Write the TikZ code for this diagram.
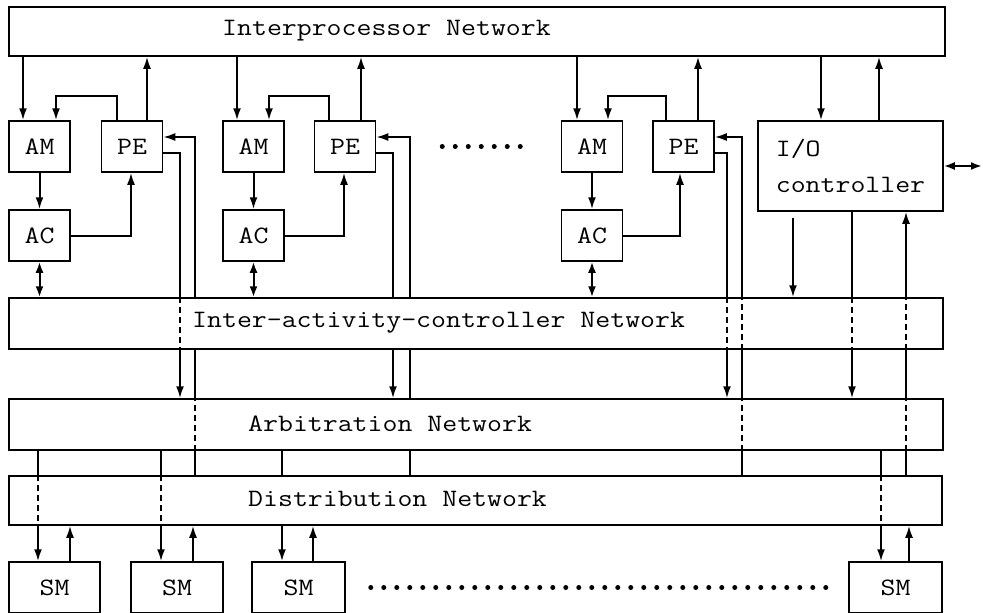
\documentclass[tikz,border=0pt]{standalone}
\usepackage{fontspec}
\setmonofont{Latin Modern Mono}[FakeStretch=1.16]
\usetikzlibrary{arrows.meta}

\tikzset{
  box/.style={draw, line width=1.5pt, minimum width=61pt, minimum height=51pt,
    inner sep=0pt, font=\ttfamily\fontsize{25}{36}\selectfont},
  net/.style={draw, line width=1.5pt, minimum width=934pt, minimum height=51pt, inner sep=0pt},
  lbl/.style={anchor=west, inner sep=0pt, font=\ttfamily\fontsize{25}{30}\selectfont},
  link/.style={line width=2pt},
  arr/.style={link, -{Latex[length=12pt,width=8pt]}},
  dbl/.style={link, {Latex[length=11pt,width=8pt]}-{Latex[length=11pt,width=8pt]}},
  thru/.style={link, dash pattern=on 6pt off 4pt},
  dots/.style={line width=5pt, line cap=round, dash pattern=on 0pt off 13pt}
}

\begin{document}
\begin{tikzpicture}[x=1pt,y=-1pt]
    \useasboundingbox (0,0) rectangle (983,613);
    % networks
    \node[net, minimum width=936pt, minimum height=49pt] (IPN) at (477,31.5) {};
    \node[net] (IACN) at (476,323.5) {};
    \node[net] (Arb) at (476,424.5) {};
    \node[net, minimum width=933pt, minimum height=49pt] (Dist) at (475.5,500.5) {};
    \node[lbl] (IPNtxt) at (222,31) {Interprocessor Network};
    \node[lbl] (IACNtxt) at (192,323) {Inter-activity-controller Network};
    \node[lbl] (Arbtxt) at (248,424) {Arbitration Network};
    \node[lbl] (Disttxt) at (248,499) {Distribution Network};
    % processors
    \node[box] (AM1) at (39.5,146.5) {AM};
    \node[box] (PE1) at (132,146.5) {PE};
    \node[box] (AC1) at (39.5,235.5) {AC};
    \node[box] (AM2) at (253.5,146.5) {AM};
    \node[box] (PE2) at (345,146.5) {PE};
    \node[box] (AC2) at (253.5,235.5) {AC};
    \node[box] (AM3) at (592,146.5) {AM};
    \node[box] (PE3) at (683.5,146.5) {PE};
    \node[box] (AC3) at (592,235.5) {AC};
    \node[box, minimum width=185pt, minimum height=90pt, align=left] (IO) at (850.5,166) {I/O\\controller};
    % shared memories
    \node[box, minimum width=91pt, minimum height=51pt] (SM1) at (54.5,587.5) {SM};
    \node[box, minimum width=92pt, minimum height=51pt] (SM2) at (177,587.5) {SM};
    \node[box, minimum width=93pt, minimum height=51pt] (SM3) at (298.5,587.5) {SM};
    \node[box, minimum width=93pt, minimum height=51pt] (SM4) at (895.5,587.5) {SM};

    % columns
    \coordinate (fbrow) at (0,96);
    \coordinate (a1) at (23,0);  \coordinate (b1) at (56,0);  \coordinate (c1) at (117,0);
    \coordinate (d1) at (131,0); \coordinate (e1) at (147,0); \coordinate (f1) at (180,0);
    \coordinate (g1) at (195,0);
    \coordinate (a2) at (237,0); \coordinate (b2) at (269,0); \coordinate (c2) at (329,0);
    \coordinate (d2) at (344,0); \coordinate (e2) at (361,0); \coordinate (f2) at (393,0);
    \coordinate (g2) at (410,0);
    \coordinate (a3) at (577,0); \coordinate (b3) at (608,0); \coordinate (c3) at (666,0);
    \coordinate (d3) at (680,0); \coordinate (e3) at (698,0); \coordinate (f3) at (727,0);
    \coordinate (g3) at (742,0);
    \coordinate (io1) at (821,0); \coordinate (io2) at (879,0);
    \coordinate (io3) at (852,0); \coordinate (io4) at (906,0);
    \coordinate (iofree) at (793,218); \coordinate (ioext) at (982,166);
    \coordinate (s1) at (38,0);  \coordinate (t1) at (70,0);
    \coordinate (s2) at (161,0); \coordinate (t2) at (193,0);
    \coordinate (s3) at (282,0); \coordinate (t3) at (313,0);
    \coordinate (s4) at (881,0); \coordinate (t4) at (909,0);

    % group 1
    \draw[arr] (IPN.south -| a1) -- (AM1.north -| a1);
    \draw[arr] (PE1.north -| c1) -- (fbrow -| c1) -| (AM1.north -| b1);
    \draw[arr] (PE1.north -| e1) -- (IPN.south -| e1);
    \draw[arr] (AM1) -- (AC1);
    \draw[arr] (AC1.east) -| (PE1.south -| d1);
    \draw[dbl] (AC1) -- (IACN.north -| AC1);
    \draw[link] ([yshift=-6.5pt]PE1.east) -| (IACN.north -| f1);
    \draw[thru] (IACN.north -| f1) -- (IACN.south -| f1);
    \draw[arr] (IACN.south -| f1) -- (Arb.north -| f1);
    \draw[link] (Dist.north -| g1) -- (Arb.south -| g1);
    \draw[thru] (Arb.south -| g1) -- (Arb.north -| g1);
    \draw[link] (Arb.north -| g1) -- (IACN.south -| g1);
    \draw[arr] (IACN.north -| g1) |- ([yshift=9.5pt]PE1.east);

    % group 2
    \draw[arr] (IPN.south -| a2) -- (AM2.north -| a2);
    \draw[arr] (PE2.north -| c2) -- (fbrow -| c2) -| (AM2.north -| b2);
    \draw[arr] (PE2.north -| e2) -- (IPN.south -| e2);
    \draw[arr] (AM2) -- (AC2);
    \draw[arr] (AC2.east) -| (PE2.south -| d2);
    \draw[dbl] (AC2) -- (IACN.north -| AC2);
    \draw[link] ([yshift=-6.5pt]PE2.east) -| (IACN.north -| f2);
    \draw[arr] (IACN.south -| f2) -- (Arb.north -| f2);
    \draw[link] (Dist.north -| g2) -- (Arb.south -| g2);
    \draw[link] (Arb.north -| g2) -- (IACN.south -| g2);
    \draw[arr] (IACN.north -| g2) |- ([yshift=9.5pt]PE2.east);

    % group 3
    \draw[arr] (IPN.south -| a3) -- (AM3.north -| a3);
    \draw[arr] (PE3.north -| c3) -- (fbrow -| c3) -| (AM3.north -| b3);
    \draw[arr] (PE3.north -| e3) -- (IPN.south -| e3);
    \draw[arr] (AM3) -- (AC3);
    \draw[arr] (AC3.east) -| (PE3.south -| d3);
    \draw[dbl] (AC3) -- (IACN.north -| AC3);
    \draw[link] ([yshift=-6.5pt]PE3.east) -| (IACN.north -| f3);
    \draw[thru] (IACN.north -| f3) -- (IACN.south -| f3);
    \draw[arr] (IACN.south -| f3) -- (Arb.north -| f3);
    \draw[link] (Dist.north -| g3) -- (Arb.south -| g3);
    \draw[thru] (Arb.south -| g3) -- (Arb.north -| g3);
    \draw[link] (Arb.north -| g3) -- (IACN.south -| g3);
    \draw[thru] (IACN.south -| g3) -- (IACN.north -| g3);
    \draw[arr] (IACN.north -| g3) |- ([yshift=9.5pt]PE3.east);

    % I/O controller
    \draw[arr] (IPN.south -| io1) -- (IO.north -| io1);
    \draw[arr] (IO.north -| io2) -- (IPN.south -| io2);
    \draw[dbl] (IO.east) -- (ioext);
    \draw[arr] (iofree) -- (IACN.north -| iofree);
    \draw[link] (IO.south -| io3) -- (IACN.north -| io3);
    \draw[thru] (IACN.north -| io3) -- (IACN.south -| io3);
    \draw[arr] (IACN.south -| io3) -- (Arb.north -| io3);
    \draw[link] (Dist.north -| io4) -- (Arb.south -| io4);
    \draw[thru] (Arb.south -| io4) -- (Arb.north -| io4);
    \draw[link] (Arb.north -| io4) -- (IACN.south -| io4);
    \draw[thru] (IACN.south -| io4) -- (IACN.north -| io4);
    \draw[arr] (IACN.north -| io4) -- (IO.south -| io4);

    % shared memories
    \draw[link] (Arb.south -| s1) -- (Dist.north -| s1);
    \draw[thru] (Dist.north -| s1) -- (Dist.south -| s1);
    \draw[arr] (Dist.south -| s1) -- (SM1.north -| s1);
    \draw[arr] (SM1.north -| t1) -- (Dist.south -| t1);
    \draw[link] (Arb.south -| s2) -- (Dist.north -| s2);
    \draw[thru] (Dist.north -| s2) -- (Dist.south -| s2);
    \draw[arr] (Dist.south -| s2) -- (SM2.north -| s2);
    \draw[arr] (SM2.north -| t2) -- (Dist.south -| t2);
    \draw[link] (Arb.south -| s3) -- (Dist.north -| s3);
    \draw[arr] (Dist.south -| s3) -- (SM3.north -| s3);
    \draw[arr] (SM3.north -| t3) -- (Dist.south -| t3);
    \draw[link] (Arb.south -| s4) -- (Dist.north -| s4);
    \draw[thru] (Dist.north -| s4) -- (Dist.south -| s4);
    \draw[arr] (Dist.south -| s4) -- (SM4.north -| s4);
    \draw[arr] (SM4.north -| t4) -- (Dist.south -| t4);

    % ellipses
    \draw[dots] ([xshift=66pt]PE2.east) -- ([xshift=-37pt]AM3.west);
    \draw[dots] ([xshift=25pt]SM3.east) -- ([xshift=-22pt]SM4.west);
\end{tikzpicture}
\end{document}
